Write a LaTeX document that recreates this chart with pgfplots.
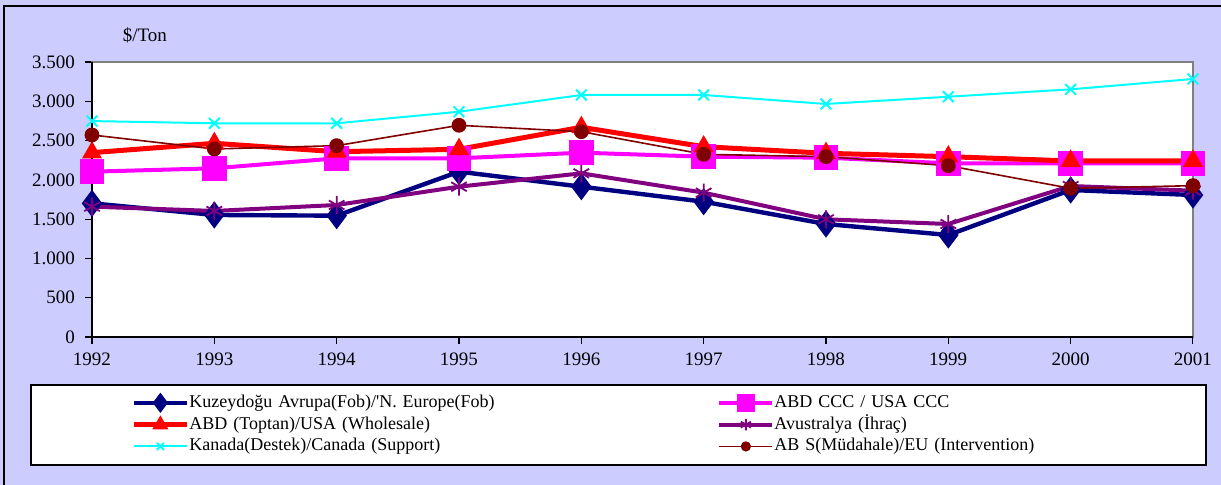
\documentclass[border=0pt]{standalone}
\usepackage{fontspec}
\setmainfont{Liberation Serif}
\usepackage{pgfplots}
\pgfplotsset{compat=1.18}

\definecolor{bgc}{HTML}{CCCCFF}
\definecolor{cnavy}{HTML}{000080}
\definecolor{cmag}{HTML}{FF00FF}
\definecolor{cred}{HTML}{FF0000}
\definecolor{cpur}{HTML}{800080}
\definecolor{ccyan}{HTML}{00FFFF}
\definecolor{cbrown}{HTML}{800000}

\begin{document}
\begin{tikzpicture}
% page background and frame
\fill[bgc] (-46pt,-74pt) rectangle (564.5pt,168.5pt);
\draw[black, line width=0.8pt] (-44pt,-74pt) -- (-44pt,165.5pt) -- (564.5pt,165.5pt);
% legend box
\filldraw[fill=white, draw=black, line width=0.6pt] (-30.5pt,-24pt) rectangle (557pt,-64pt);

\begin{axis}[
  scale only axis, width=550.5pt, height=137.5pt,
  xmin=1992, xmax=2001, ymin=0, ymax=3500,
  xtick={1992,...,2001}, ytick={0,500,...,3500},
  xtick pos=left, ytick pos=left,
  tick align=outside, major tick length=3.5pt,
  tick style={black, line width=0.6pt},
  axis line style={draw=gray, line width=0.8pt},
  axis background/.style={fill=white},
  /pgf/number format/assume math mode=true,
  /pgf/number format/1000 sep={.},
  xticklabel style={/pgf/number format/1000 sep={}, font=\fontsize{9.5}{11}\selectfont, yshift=-1pt},
  yticklabel style={font=\fontsize{9.5}{11}\selectfont, xshift=-1.5pt},
  ylabel={\$/Ton}, ylabel style={rotate=-90, at={(axis description cs:0.048,1.098)}, anchor=center, font=\fontsize{9.5}{11}\selectfont},
  clip=false,
  legend columns=2,
  legend cell align=left,
  legend style={draw=none, fill=none, inner sep=0pt,
    at={(axis description cs:0.0354,-0.207)}, anchor=north west,
    column sep=0pt, row sep=2.4pt,
    nodes={inner sep=0pt, text height=6.5pt, text depth=2pt, text width=264pt, align=left,
      font=\fontsize{9}{10}\selectfont}},
  legend image code/.code={\draw[mark repeat=2,mark phase=2,#1,every mark/.append style={scale=0.65}] plot coordinates {(0pt,0pt)(13.25pt,0pt)(26.5pt,0pt)};},
]
\draw[black, line width=0.8pt] (rel axis cs:0,1) -- (rel axis cs:0,0) -- (rel axis cs:1,0);

\addplot[cnavy, line width=2.2pt, mark=diamond*, mark size=5pt, mark options={solid}] coordinates
  {(1992,1701)(1993,1553)(1994,1544)(1995,2104)(1996,1913)(1997,1722)(1998,1438)(1999,1298)(2000,1871)(2001,1807)};
\addlegendentry{Kuzeydoğu Avrupa(Fob)/\textquotesingle N. Europe(Fob)}
\addplot[cmag, line width=2pt, mark=square*, mark size=5.2pt] coordinates
  {(1992,2104)(1993,2147)(1994,2274)(1995,2274)(1996,2346)(1997,2295)(1998,2282)(1999,2210)(2000,2210)(2001,2210)};
\addlegendentry{ABD CCC / USA CCC}
\addplot[cred, line width=2.5pt, mark=triangle*, mark size=3.3pt] coordinates
  {(1992,2346)(1993,2465)(1994,2358)(1995,2389)(1996,2669)(1997,2422)(1998,2338)(1999,2295)(2000,2240)(2001,2240)};
\addlegendentry{ABD (Toptan)/USA (Wholesale)}
\addplot[cpur, line width=2pt, mark=asterisk, mark size=4.5pt, mark options={line width=0.9pt}] coordinates
  {(1992,1659)(1993,1604)(1994,1680)(1995,1913)(1996,2083)(1997,1837)(1998,1498)(1999,1438)(2000,1922)(2001,1862)};
\addlegendentry{Avustralya (İhraç)}
\addplot[ccyan, line width=1pt, mark=x, mark size=3.8pt, mark options={line width=1pt}] coordinates
  {(1992,2748)(1993,2720)(1994,2720)(1995,2867)(1996,3080)(1997,3080)(1998,2966)(1999,3058)(2000,3152)(2001,3284)};
\addlegendentry{Kanada(Destek)/Canada (Support)}
\addplot[cbrown, line width=0.8pt, mark=*, mark size=3.3pt] coordinates
  {(1992,2571)(1993,2393)(1994,2435)(1995,2694)(1996,2613)(1997,2325)(1998,2295)(1999,2180)(2000,1892)(2001,1926)};
\addlegendentry{AB S(Müdahale)/EU (Intervention)}
\end{axis}
\pgfresetboundingbox
\path[use as bounding box] (-46pt,-74pt) rectangle (564.5pt,168.5pt);
\end{tikzpicture}
\end{document}
